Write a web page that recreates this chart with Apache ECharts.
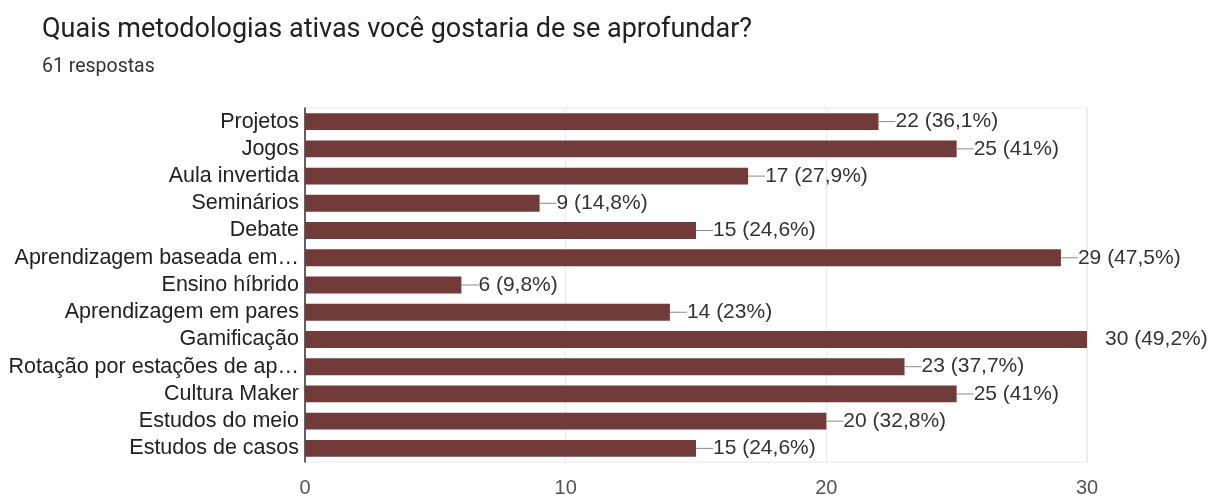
<!DOCTYPE html>
<html>
<head>
<meta charset="utf-8">
<script src="https://cdn.jsdelivr.net/npm/echarts@6/dist/echarts.min.js"></script>
<style>
  html, body { margin: 0; padding: 0; background: #fff; }
  #chart { width: 1210px; height: 498px; }
</style>
</head>
<body>
<div id="chart"></div>
<script>
// Survey question and respondent count
const questionTitle = 'Quais metodologias ativas você gostaria de se aprofundar?';
const totalResponses = 61;

// Answer options (as shown on the axis) and vote counts
const categories = [
  'Projetos',
  'Jogos',
  'Aula invertida',
  'Seminários',
  'Debate',
  'Aprendizagem baseada em…',
  'Ensino híbrido',
  'Aprendizagem em pares',
  'Gamificação',
  'Rotação por estações de ap…',
  'Cultura Maker',
  'Estudos do meio',
  'Estudos de casos'
];
const counts = [22, 25, 17, 9, 15, 29, 6, 14, 30, 23, 25, 20, 15];

// Value axis ticks
const axisMin = 0;
const axisMax = 30;
const axisStep = 10;

const labelFont = '"Liberation Sans", Arial, sans-serif';

// Share of respondents, pt-BR style: one decimal, trailing ",0" dropped
function pct(v) {
  const p = Math.round(v / totalResponses * 1000) / 10;
  return (Number.isInteger(p) ? String(p) : p.toFixed(1)).replace('.', ',') + '%';
}

const chart = echarts.init(document.getElementById('chart'), null, { renderer: 'canvas' });

chart.setOption({
  animation: false,
  backgroundColor: '#ffffff',
  title: {
    text: questionTitle,
    subtext: totalResponses + ' respostas',
    left: 37,
    top: 12,
    itemGap: 13,
    textStyle: { fontFamily: 'Roboto', fontSize: 27, fontWeight: 'normal', color: '#202124' },
    subtextStyle: { fontFamily: 'Roboto', fontSize: 19.5, color: '#333333' }
  },
  grid: {
    left: 305, right: 123, top: 108, bottom: 33,
    show: true, borderColor: '#e8e8e8', borderWidth: 1
  },
  xAxis: {
    type: 'value',
    min: axisMin, max: axisMax, interval: axisStep,
    axisLine: { show: false },
    axisTick: { show: false },
    splitLine: { lineStyle: { color: '#e8e8e8', width: 1 } },
    axisLabel: { fontFamily: labelFont, fontSize: 20, color: '#555', margin: 16 }
  },
  yAxis: {
    type: 'category',
    data: categories,
    inverse: true,
    axisLine: { lineStyle: { color: '#333', width: 1.5 } },
    axisTick: { show: false },
    axisLabel: { interval: 0, fontFamily: labelFont, fontSize: 21.5, color: '#222', margin: 6 }
  },
  series: [{
    type: 'bar',
    data: counts,
    barCategoryGap: '38%',
    itemStyle: { color: '#713b39' },
    label: {
      show: true,
      position: 'right',
      distance: 0,
      formatter: (p) => {
        const txt = p.value + ' (' + pct(p.value) + ')';
        return p.value >= axisMax ? '{gap|}{t|' + txt + '}' : '{ln|}{t|' + txt + '}';
      },
      rich: {
        ln: { width: 17, height: 1, backgroundColor: '#8a8a8a' },
        gap: { width: 18, height: 1 },
        t: { fontFamily: labelFont, fontSize: 21, color: '#333' }
      }
    }
  }]
});
</script>
</body>
</html>
